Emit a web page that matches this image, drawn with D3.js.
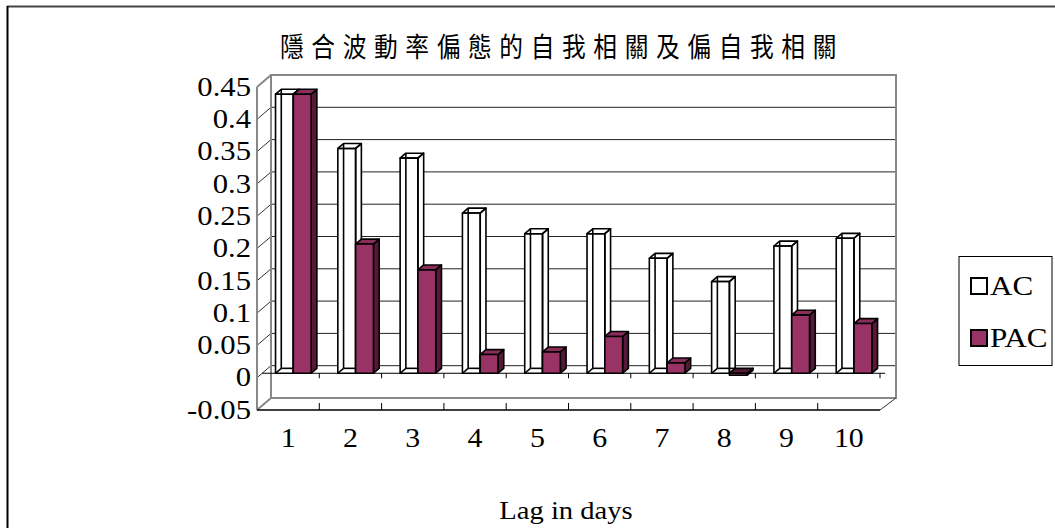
<!DOCTYPE html>
<html><head><meta charset="utf-8">
<script src="https://cdn.jsdelivr.net/npm/d3@7/dist/d3.min.js"></script>
<style>body{margin:0;background:#fff}svg{display:block}</style>
</head><body>
<script>
const categories = ["1","2","3","4","5","6","7","8","9","10"];
const seriesNames = ["AC","PAC"];
const acValues  = [0.432,0.348,0.333,0.248,0.216,0.216,0.178,0.142,0.197,0.209];
const pacValues = [0.432,0.200,0.160,0.029,0.033,0.057,0.016,-0.003,0.090,0.077];
const yTicks = [-0.05,0,0.05,0.1,0.15,0.2,0.25,0.3,0.35,0.4,0.45];
const yTickLabels = ["-0.05","0","0.05","0.1","0.15","0.2","0.25","0.3","0.35","0.4","0.45"];
const titleText = "隱合波動率偏態的自我相關及偏自我相關";
const xTitle = "Lag in days";

const W=1055,H=528;
const svg=d3.select("body").append("svg").attr("width",W).attr("height",H);
const serif="'Liberation Serif','Times New Roman',serif";

// frame
svg.append("line").attr("x1",7).attr("y1",6.5).attr("x2",W).attr("y2",6.5).attr("stroke","#444").attr("stroke-width",2);
svg.append("line").attr("x1",7.5).attr("y1",6).attr("x2",7.5).attr("y2",H).attr("stroke","#000").attr("stroke-width",2);

// title
svg.append("g").attr("transform","translate(562,57) scale(0.95,1.08)")
  .append("text").attr("text-anchor","middle")
  .attr("font-family","'Noto Sans CJK TC','Noto Sans CJK SC',sans-serif").attr("font-size",25)
  .attr("letter-spacing","8px").attr("fill","#000").text(titleText);

// scales in front plane
const x=d3.scaleBand().domain(categories).range([257,880]);
const y=d3.scaleLinear().domain([-0.05,0.45]).range([410,87]);
const DX=14, DY=-12;
const off=d=>[DX*d,DY*d];
const xs=d3.scaleBand().domain(seriesNames).range([0,x.bandwidth()]).paddingInner(0).paddingOuter(0.75);

const g=svg.append("g");
const gray="#888";
const [bx,by]=off(1);
yTicks.forEach(v=>{
  const yy=y(v)+by;
  if(v>-0.05 && v<0.45){
    g.append("line").attr("x1",257+bx).attr("x2",880+bx+2).attr("y1",yy).attr("y2",yy).attr("stroke","#222").attr("stroke-width",1);
  }
  g.append("line").attr("x1",257).attr("y1",y(v)).attr("x2",257+bx).attr("y2",yy)
    .attr("stroke",(v===-0.05||v===0.45)?gray:"#333").attr("stroke-width",(v===-0.05||v===0.45)?2:1);
});
g.append("rect").attr("x",257+bx).attr("y",y(0.45)+by).attr("width",880+bx+2-(257+bx)).attr("height",y(-0.05)-y(0.45))
  .attr("fill","none").attr("stroke",gray).attr("stroke-width",2);
g.append("line").attr("x1",257).attr("x2",257).attr("y1",y(0.45)).attr("y2",y(-0.05)).attr("stroke",gray).attr("stroke-width",2);
g.append("line").attr("x1",880).attr("y1",y(-0.05)).attr("x2",880+bx+2).attr("y2",y(-0.05)+by).attr("stroke","#333").attr("stroke-width",1);
g.append("line").attr("x1",257).attr("x2",880).attr("y1",y(-0.05)).attr("y2",y(-0.05)).attr("stroke","#000").attr("stroke-width",1.5);
categories.forEach((c,i)=>{
  if(i>0){
    const xx=x(c);
    g.append("line").attr("x1",xx).attr("x2",xx).attr("y1",y(-0.05)-7).attr("y2",y(-0.05)).attr("stroke","#000");
  }
});

const d0=0.37,d1=0.78;
const [fx,fy]=off(d0), [kx,ky]=off(d1);
const bdx=kx-fx, bdy=ky-fy;
const pac={front:"#993366",top:"#8a2d5b",side:"#561a38"};
const pts=a=>a.map(p=>p.join(",")).join(" ");

const y0=y(0)+fy;
g.append("line").attr("x1",257+fx).attr("x2",880+fx).attr("y1",y0).attr("y2",y0).attr("stroke","#000").attr("stroke-width",1);
categories.forEach((c,i)=>{
  const xx=x(c);
  if(i>0) g.append("line").attr("x1",xx).attr("x2",xx).attr("y1",y0).attr("y2",y0+5).attr("stroke","#000");
});
g.append("line").attr("x1",880).attr("x2",880).attr("y1",y0).attr("y2",y0+5).attr("stroke","#000");

const bars=g.append("g");
categories.forEach((c,i)=>{
  [acValues[i],pacValues[i]].forEach((v,s)=>{
    const name=seriesNames[s];
    const xl=x(c)+xs(name)+fx, xr=xl+xs.bandwidth();
    const yt=Math.min(y(v),y(0))+fy, yb=Math.max(y(v),y(0))+fy;
    const front=[[xl,yt],[xr,yt],[xr,yb],[xl,yb]];
    const top=[[xl,yt],[xl+bdx,yt+bdy],[xr+bdx,yt+bdy],[xr,yt]];
    const side=[[xr,yt],[xr+bdx,yt+bdy],[xr+bdx,yb+bdy],[xr,yb]];
    const sw=1.6;
    if(s===0){
      const hull=[[xl,yb],[xl,yt],[xl+bdx,yt+bdy],[xr+bdx,yt+bdy],[xr+bdx,yb+bdy],[xr,yb]];
      bars.append("polygon").attr("points",pts(hull)).attr("fill","#fff").attr("stroke","none");
      bars.append("line").attr("x1",xl+bdx).attr("x2",xl+bdx).attr("y1",yt+bdy).attr("y2",yb+bdy).attr("stroke","#000").attr("stroke-width",sw);
      bars.append("line").attr("x1",xl+bdx).attr("x2",xr+bdx).attr("y1",yb+bdy).attr("y2",yb+bdy).attr("stroke","#000").attr("stroke-width",sw);
      bars.append("line").attr("x1",xl).attr("x2",xl+bdx).attr("y1",yb).attr("y2",yb+bdy).attr("stroke","#000").attr("stroke-width",sw);
      [front,top,side].forEach(p=>bars.append("polygon").attr("points",pts(p)).attr("fill","none").attr("stroke","#000").attr("stroke-width",sw).attr("stroke-linejoin","round"));
    } else {
      bars.append("polygon").attr("points",pts(side)).attr("fill",pac.side).attr("stroke","#000").attr("stroke-width",sw).attr("stroke-linejoin","round");
      bars.append("polygon").attr("points",pts(top)).attr("fill",v<0?pac.side:pac.top).attr("stroke","#000").attr("stroke-width",sw).attr("stroke-linejoin","round");
      bars.append("polygon").attr("points",pts(front)).attr("fill",pac.front).attr("stroke","#000").attr("stroke-width",sw).attr("stroke-linejoin","round");
    }
  });
});

yTicks.forEach((v,i)=>{
  svg.append("g").attr("transform",`translate(251,${y(v)}) scale(1.18,1.02)`)
    .append("text").attr("text-anchor","end").attr("dy","0.33em")
    .attr("font-family",serif).attr("font-size",26).attr("fill","#000").text(yTickLabels[i]);
});
categories.forEach(c=>{
  svg.append("g").attr("transform",`translate(${x(c)+x.bandwidth()/2},438) scale(1.15,1.02)`)
    .append("text").attr("text-anchor","middle").attr("dy","0.33em")
    .attr("font-family",serif).attr("font-size",26).attr("fill","#000").text(c);
});
svg.append("g").attr("transform",`translate(566,510) scale(1.1,1)`)
  .append("text").attr("text-anchor","middle").attr("dy","0.33em")
  .attr("font-family",serif).attr("font-size",26).attr("fill","#000").text(xTitle);

const lg=svg.append("g");
lg.append("rect").attr("x",959).attr("y",256.5).attr("width",93).attr("height",109).attr("fill","#fff").attr("stroke","#000").attr("stroke-width",1);
seriesNames.forEach((n,i)=>{
  const cy=[286,338][i];
  lg.append("rect").attr("x",971).attr("y",cy-8).attr("width",16).attr("height",16)
    .attr("fill",i===0?"#fff":pac.front).attr("stroke","#000").attr("stroke-width",2);
  lg.append("g").attr("transform",`translate(990,${cy}) scale(1.15,1)`)
    .append("text").attr("dy","0.35em").attr("font-family",serif).attr("font-size",27).attr("fill","#000").text(n);
});
</script>
</body></html>
